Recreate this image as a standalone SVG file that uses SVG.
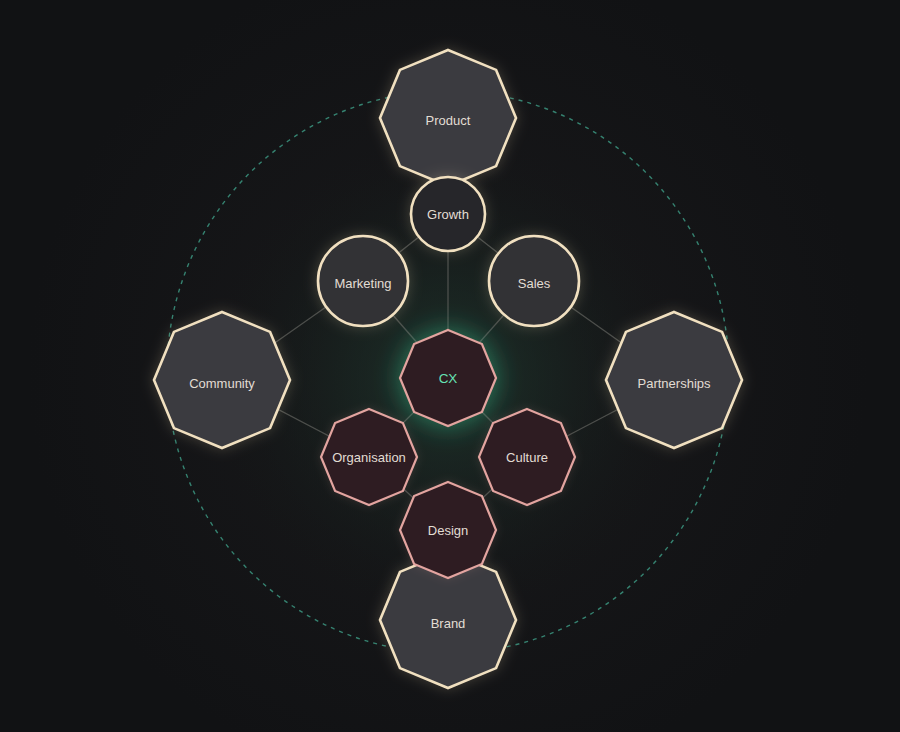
<svg xmlns="http://www.w3.org/2000/svg" width="900" height="732" viewBox="0 0 900 732">
  <defs>
    <radialGradient id="bgGlow" cx="448" cy="380" r="250" gradientUnits="userSpaceOnUse">
      <stop offset="0" stop-color="#1d362d" stop-opacity="0.9"/>
      <stop offset="0.45" stop-color="#192722" stop-opacity="0.55"/>
      <stop offset="1" stop-color="#131415" stop-opacity="0"/>
    </radialGradient>
    <radialGradient id="outerGlow" cx="448" cy="372" r="420" gradientUnits="userSpaceOnUse">
      <stop offset="0" stop-color="#19191b"/>
      <stop offset="1" stop-color="#111214"/>
    </radialGradient>
    <filter id="glowCream" x="-40%" y="-40%" width="180%" height="180%">
      <feDropShadow dx="0" dy="0" stdDeviation="7" flood-color="#f0dcb4" flood-opacity="0.22"/>
    </filter>
    <filter id="glowPink" x="-40%" y="-40%" width="180%" height="180%">
      <feDropShadow dx="0" dy="0" stdDeviation="5" flood-color="#e0a09a" flood-opacity="0.15"/>
    </filter>
    <filter id="glowTeal" x="-80%" y="-80%" width="260%" height="260%">
      <feDropShadow dx="0" dy="0" stdDeviation="13" flood-color="#36d49a" flood-opacity="0.5"/>
    </filter>
    <polygon id="octBig" points="0,-68 48.08,-48.08 68,0 48.08,48.08 0,68 -48.08,48.08 -68,0 -48.08,-48.08"/>
    <polygon id="octSmall" points="0,-48 33.94,-33.94 48,0 33.94,33.94 0,48 -33.94,33.94 -48,0 -33.94,-33.94"/>
  </defs>
  <style>
    .big { fill: #3a3b3f; stroke: #f1e0c0; stroke-width: 2.6; filter: url(#glowCream); }
    .circ { fill: #303135; stroke: #f1e0c0; stroke-width: 2.6; filter: url(#glowCream); }
    .circDark { fill: #25272a; stroke: #f1e0c0; stroke-width: 2.6; filter: url(#glowCream); }
    .small { fill: #2f1e21; stroke: #e3a4a0; stroke-width: 2.2; filter: url(#glowPink); }
    .cx { fill: #2f1e21; stroke: #e3a4a0; stroke-width: 2.2; filter: url(#glowTeal); }
    .lbl { font-family: "Liberation Sans", Arial, sans-serif; font-size: 13px; fill: #e2ddd4; text-anchor: middle; dominant-baseline: central; }
    .lblcx { font-family: "Liberation Sans", Arial, sans-serif; font-size: 13.5px; fill: #66e2b4; text-anchor: middle; dominant-baseline: central; }
    .conn line { stroke: #5a5b58; stroke-width: 1.3; stroke-opacity: 0.8; }
    .ring { fill: none; stroke: #358270; stroke-width: 1.4; stroke-dasharray: 4 5; }
  </style>

  <rect width="900" height="732" fill="url(#outerGlow)"/>
  <rect width="900" height="732" fill="url(#bgGlow)"/>

  <circle class="ring" cx="448" cy="372" r="281"/>

  <g id="connectors" class="conn">
    <line x1="448" y1="118" x2="448" y2="214"/>
    <line x1="448" y1="214" x2="448" y2="378"/>
    <line x1="448" y1="214" x2="363" y2="281"/>
    <line x1="448" y1="214" x2="534" y2="281"/>
    <line x1="363" y1="281" x2="448" y2="378"/>
    <line x1="534" y1="281" x2="448" y2="378"/>
    <line x1="363" y1="281" x2="222" y2="380"/>
    <line x1="534" y1="281" x2="674" y2="380"/>
    <line x1="222" y1="380" x2="369" y2="457"/>
    <line x1="674" y1="380" x2="527" y2="457"/>
    <line x1="448" y1="378" x2="369" y2="457"/>
    <line x1="448" y1="378" x2="527" y2="457"/>
    <line x1="369" y1="457" x2="448" y2="530"/>
    <line x1="527" y1="457" x2="448" y2="530"/>
    <line x1="448" y1="530" x2="448" y2="620"/>
  </g>

  <g id="product" transform="translate(448,118)">
    <use href="#octBig" class="big"/>
    <text class="lbl" x="0" y="2">Product</text>
  </g>
  <g id="growth" transform="translate(448,214)">
    <circle r="37" class="circDark"/>
    <text class="lbl" x="0" y="0">Growth</text>
  </g>
  <g id="marketing" transform="translate(363,281)">
    <circle r="45" class="circ"/>
    <text class="lbl" x="0" y="2">Marketing</text>
  </g>
  <g id="sales" transform="translate(534,281)">
    <circle r="45" class="circ"/>
    <text class="lbl" x="0" y="2">Sales</text>
  </g>
  <g id="community" transform="translate(222,380)">
    <use href="#octBig" class="big"/>
    <text class="lbl" x="0" y="3">Community</text>
  </g>
  <g id="partnerships" transform="translate(674,380)">
    <use href="#octBig" class="big"/>
    <text class="lbl" x="0" y="3">Partnerships</text>
  </g>
  <g id="cx" transform="translate(448,378)">
    <use href="#octSmall" class="cx"/>
    <text class="lblcx" x="0" y="0">CX</text>
  </g>
  <g id="organisation" transform="translate(369,457)">
    <use href="#octSmall" class="small"/>
    <text class="lbl" x="0" y="0">Organisation</text>
  </g>
  <g id="culture" transform="translate(527,457)">
    <use href="#octSmall" class="small"/>
    <text class="lbl" x="0" y="0">Culture</text>
  </g>
  <g id="brand" transform="translate(448,620)">
    <use href="#octBig" class="big"/>
    <text class="lbl" x="0" y="3">Brand</text>
  </g>
  <g id="design" transform="translate(448,530)">
    <use href="#octSmall" class="small"/>
    <text class="lbl" x="0" y="0">Design</text>
  </g>
</svg>
